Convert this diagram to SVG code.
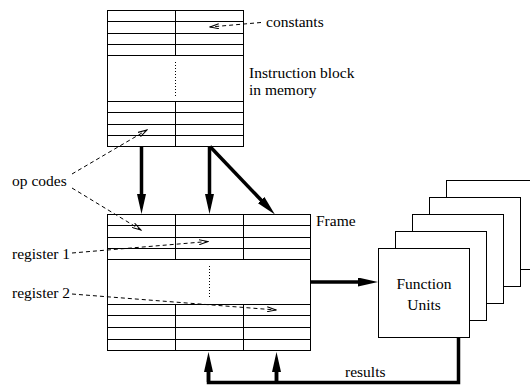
<svg xmlns="http://www.w3.org/2000/svg" width="530" height="385" viewBox="0 0 530 385">
<style>
.t{font-family:'Liberation Serif','Times New Roman',Times,serif;font-size:15.5px;fill:#000}
.grid{fill:#fff;stroke:#000;stroke-width:1}
.ln{stroke:#000;stroke-width:1;fill:none}
.dot{stroke:#000;stroke-width:1;stroke-dasharray:1,2;fill:none}
.thick{stroke:#000;stroke-width:3.5;fill:none}
.dash{stroke:#000;stroke-width:1;stroke-dasharray:4,3;fill:none;marker-end:url(#open)}
.fu{fill:#fff;stroke:#000;stroke-width:1}
</style>
<defs>
<marker id="open" viewBox="0 0 10 6" refX="9" refY="3" markerWidth="10" markerHeight="6" markerUnits="userSpaceOnUse" orient="auto">
<path d="M0,0.5 L9,3 L0,5.5" fill="none" stroke="#000" stroke-width="1"/>
</marker>
<marker id="solid" viewBox="0 0 20 9" refX="2" refY="4.5" markerWidth="20" markerHeight="9" markerUnits="userSpaceOnUse" orient="auto">
<path d="M0,0 L20,4.5 L0,9 z" fill="#000"/>
</marker>
</defs>

<g id="instruction-block">
<rect class="grid" x="107.5" y="10.5" width="136" height="136"/>
<path class="ln" d="M107.5,21.5H243.5M107.5,33.5H243.5M107.5,44.5H243.5M107.5,55.5H243.5M107.5,101.5H243.5M107.5,112.5H243.5M107.5,124.5H243.5M107.5,135.5H243.5M175.5,10.5V55.5M175.5,101.5V146.5"/>
<path class="dot" d="M175.5,62V97"/>
<text class="t" x="249" y="78">Instruction block</text>
<text class="t" x="249" y="95">in memory</text>
</g>

<g id="frame">
<rect class="grid" x="107.5" y="214.5" width="203" height="136"/>
<path class="ln" d="M107.5,225.5H310.5M107.5,237.5H310.5M107.5,248.5H310.5M107.5,259.5H310.5M107.5,304.5H310.5M107.5,315.5H310.5M107.5,327.5H310.5M107.5,339.5H310.5M175.5,214.5V259.5M243.5,214.5V259.5M175.5,304.5V350.5M243.5,304.5V350.5"/>
<path class="dot" d="M209.5,266V299"/>
<text class="t" x="316" y="226">Frame</text>
</g>

<g id="function-units">
<rect class="fu" x="446.5" y="180.5" width="91" height="89"/>
<rect class="fu" x="429.5" y="197.5" width="91" height="89"/>
<rect class="fu" x="412.5" y="214.5" width="91" height="89"/>
<rect class="fu" x="395.5" y="231.5" width="91" height="89"/>
<rect class="fu" x="378.5" y="248.5" width="91" height="89"/>
<text class="t" x="424" y="289" text-anchor="middle">Function</text>
<text class="t" x="424" y="310" text-anchor="middle">Units</text>
</g>

<g id="labels">
<text class="t" x="266" y="27">constants</text>
<text class="t" x="12" y="186">op codes</text>
<text class="t" x="12" y="259">register 1</text>
<text class="t" x="12" y="298">register 2</text>
<text class="t" x="345" y="377">results</text>
</g>

<g id="connectors">
<path class="thick" d="M141.5,146.5V196" marker-end="url(#solid)"/>
<path class="thick" d="M209.5,146.5V196" marker-end="url(#solid)"/>
<path class="thick" d="M210,146.5L262.5,201.5" marker-end="url(#solid)"/>
<path class="thick" d="M311,282H360" marker-end="url(#solid)"/>
<path class="thick" d="M458.5,338V382.5H208.5V370"/>
<path class="thick" d="M276.5,382.5V370"/>
<path class="thick" d="M208.5,382V370" marker-end="url(#solid)"/>
<path class="thick" d="M276.5,382V370" marker-end="url(#solid)"/>
<path class="dash" d="M261,22.5L210,27"/>
<path class="dash" d="M72,174L147,130"/>
<path class="dash" d="M72,188L141,230"/>
<path class="dash" d="M72,253L208,241.5"/>
<path class="dash" d="M72,294L276,310"/>
</g>
</svg>
